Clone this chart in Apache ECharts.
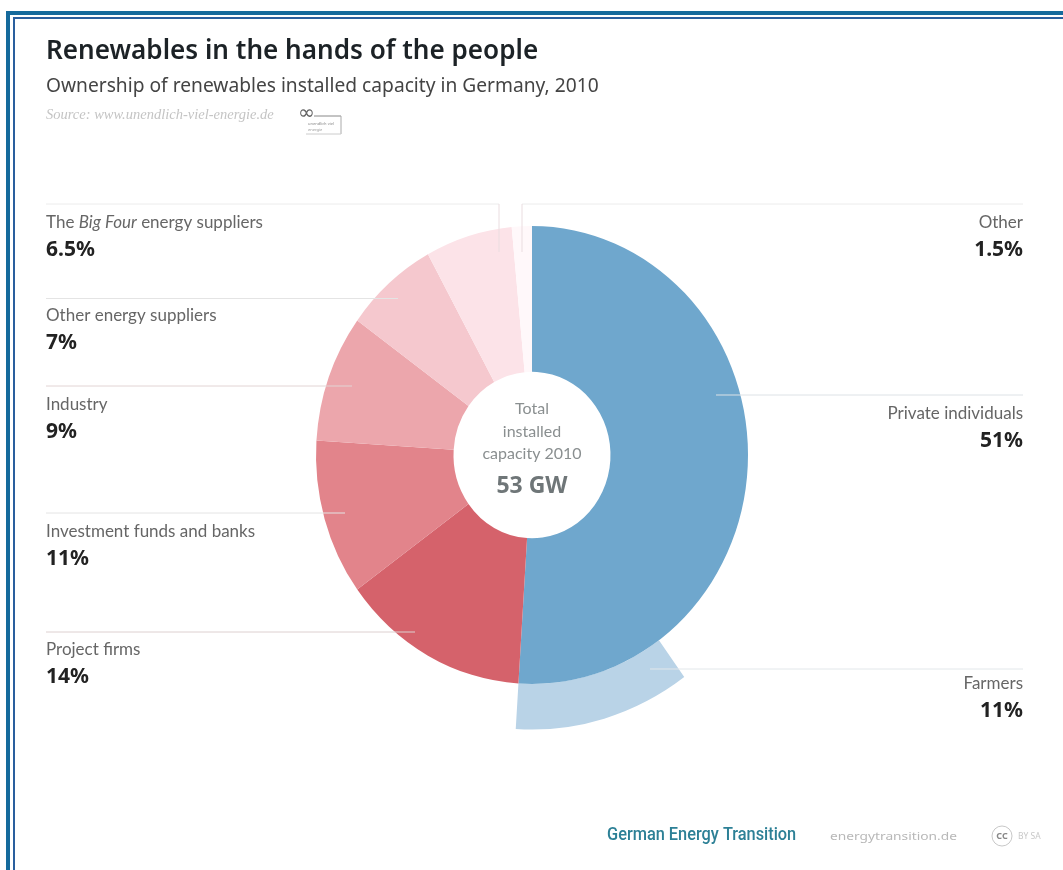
<!DOCTYPE html>
<html>
<head>
<meta charset="utf-8">
<style>html,body{margin:0;padding:0;background:#fff}#c{width:1063px;height:870px}</style>
<script src="https://cdn.jsdelivr.net/npm/echarts@6/dist/echarts.min.js"></script>
</head>
<body>
<div id="c"></div>
<script>
const categories = ['Private individuals','Project firms','Investment funds and banks','Industry','Other energy suppliers','The Big Four energy suppliers','Other'];
const shares = [51,14,11,9,7,6.5,1.5];
const subCategory = 'Farmers';
const subShare = 11;
const totalLabel = ['Total','installed','capacity 2010'];
const totalValue = '53 GW';

const sliceColors = ['#6fa7cd','#d5626b','#e2848b','#eca6ac','#f5c8ce','#fce3e8','#fff8fa'];
const subColor = '#b9d3e7';
const FONT = '"Noto Sans","Open Sans",sans-serif';
const LABEL = 'Lato,"Noto Sans",sans-serif';
const STRETCH = 1.06, R0 = 78.5, R1 = 216, R2 = 259;

// build marks: [startShare, endShare, slice index, isSubBand]; the sub-share is the tail of the first slice
let acc = 0;
const marks = shares.map((s,i)=>{const m=[acc,acc+s,i,0];acc+=s;return m;});
marks.unshift([shares[0]-subShare,shares[0],0,1]);

function renderSlice(params, api){
  const c = params.coordSys;
  const a0 = api.value(0), a1 = api.value(1), idx = api.value(2), sub = api.value(3);
  const p0 = api.coord([1,a0]), p1 = api.coord([1,a1]);
  let s = Math.atan2(p0[1]-c.cy,p0[0]-c.cx), e = Math.atan2(p1[1]-c.cy,p1[0]-c.cx);
  if (e <= s) e += Math.PI*2;
  return {
    type:'sector', x:c.cx, y:c.cy, scaleX:1, scaleY:STRETCH,
    shape:{cx:0,cy:0,r0:sub?R1:R0,r:sub?R2:R1,startAngle:s,endAngle:e,clockwise:true},
    style:{fill:sub?subColor:sliceColors[idx]}
  };
}

const labelPos = {
  'The Big Four energy suppliers':[46,223,'left'],
  'Other energy suppliers':[46,316,'left'],
  'Industry':[46,405,'left'],
  'Investment funds and banks':[46,532,'left'],
  'Project firms':[46,650,'left'],
  'Other':[1023,223,'right'],
  'Private individuals':[1023,414,'right'],
  'Farmers':[1023,684,'right']
};
const graphics = [];
function txt(x,y,t,size,color,weight,align,extra){
  extra = extra||{};
  const el = {type:'text',x,y,z:10,style:{text:t,fill:color,font:(weight||'normal')+' '+size+'px '+(extra.ff||LABEL),textAlign:align||'left',textVerticalAlign:'middle'}};
  if (extra.scaleX) { el.scaleX = extra.scaleX; }
  graphics.push(el);
}
function line(x1,y1,x2,y2,c,w){graphics.push({type:'line',z:5,shape:{x1,y1,x2,y2},style:{stroke:c||'#e4e4e4',lineWidth:w||1}});}
function rect(x,y,w,h,c){graphics.push({type:'rect',z:6,shape:{x,y,width:w,height:h},style:{fill:c}});}

// frame
rect(6,11,4,859,'#156a9c'); rect(13,17,2,853,'#2a5f9e');
rect(6,11,1057,4,'#156a9c'); rect(13,17,1050,2,'#2a5f9e');

// heading
txt(46,52,'Renewables in the hands of the people',26.1,'#1c2226','600','left',{ff:FONT});
txt(46,87,'Ownership of renewables installed capacity in Germany, 2010',19.2,'#444','normal','left',{ff:FONT});
txt(46,115,'Source: www.unendlich-viel-energie.de',14.5,'#c4c4c4','italic','left',{ff:'"Liberation Serif",serif'});
txt(298,114,'\u221E',20,'#666','normal','left',{ff:'"DejaVu Sans",sans-serif'});
line(314,116,341,116,'#888'); line(341,116,341,134,'#aaa'); line(306,134,341,134,'#ccc');
txt(308,124,'unendlich viel',4,'#888','normal','left',{ff:FONT});
txt(308,130,'energie',4,'#999','normal','left',{ff:FONT});

// leader lines
line(46,204,499,204,'#ececec'); line(499,204,499,252,'#eadde0');
line(522,204,1023,204,'#ececec'); line(522,204,522,252,'#eadde0');
line(46,298.5,398,298.5); line(46,386,352,386,'#e2d4d4');
line(46,513,345,513); line(46,632,415,632,'#ddd0d0');
line(716,395,1023,395,'#dde2e6'); line(650,669,1023,669,'#e2e7ea');

// labels
const allLabels = categories.map((n,i)=>[n,shares[i]]).concat([[subCategory,subShare]]);
allLabels.forEach(([name,v])=>{
  const [x,y,a] = labelPos[name];
  if (name.indexOf('Big Four')>=0) {
    graphics.push({type:'text',x,y,z:10,style:{text:'{n|The }{i|Big Four}{n| energy suppliers}',textAlign:a,textVerticalAlign:'middle',
      rich:{n:{font:'normal 17px '+LABEL,fill:'#666'},i:{font:'italic 17px '+LABEL,fill:'#666'}}}});
  } else {
    txt(x,y,name,17,'#666','normal',a);
  }
  txt(x,y+27.5,v+'%',21,'#222','bold',a,{ff:FONT});
});

// centre
totalLabel.forEach((t,i)=>txt(532,409+i*22.5,t,16,'#8a8f90','normal','center'));
txt(532,486,totalValue,23,'#6f7678','bold','center',{ff:FONT});

// footer
txt(607,835,'German Energy Transition',19,'#2d8096','500','left',{ff:'Roboto,sans-serif',scaleX:0.86});
txt(830,837,'energytransition.de',11,'#b8b8b8','normal','left',{ff:FONT,scaleX:1.25});
graphics.push({type:'circle',z:6,shape:{cx:1002,cy:836,r:10},style:{fill:'none',stroke:'#c8c8c8',lineWidth:1}});
txt(1002,836,'CC',9,'#888','bold','center',{ff:FONT});
txt(1018,837,'BY SA',8.5,'#c8c8c8','normal','left',{ff:FONT});

const chart = echarts.init(document.getElementById('c'),null,{renderer:'canvas'});
chart.setOption({
  animation:false,
  backgroundColor:'#fff',
  polar:{center:[532,455],radius:R1},
  angleAxis:{type:'value',min:0,max:100,startAngle:90,clockwise:true,show:false},
  radiusAxis:{type:'value',min:0,max:1,show:false},
  series:[{type:'custom',coordinateSystem:'polar',renderItem:renderSlice,data:marks,silent:true,z:2}],
  graphic:graphics
});
</script>
</body>
</html>
